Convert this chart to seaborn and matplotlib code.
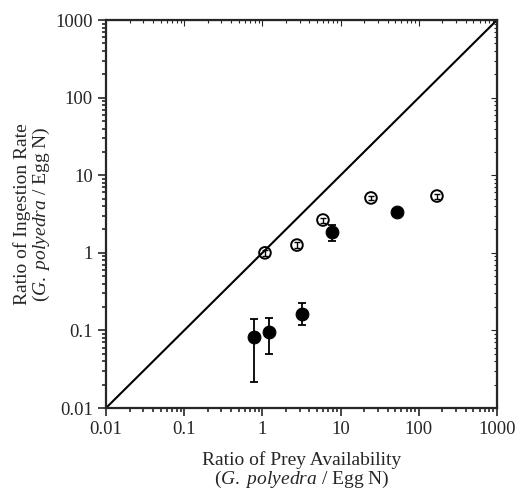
import numpy as np
import pandas as pd
import matplotlib
matplotlib.use("Agg")
from matplotlib import pyplot as plt
import seaborn as sns

# open circles
open_x = [1.08, 2.77, 5.96, 24.5, 171]
open_y = [1.0, 1.26, 2.65, 5.1, 5.4]
open_err = [0.08, 0.1, 0.2, 0.35, 0.4]

# filled circles
fill_x = [0.78, 1.21, 3.21, 7.76, 52.8]
fill_y = [0.082, 0.095, 0.163, 1.85, 3.36]
fill_lo = [0.0216, 0.0497, 0.117, 1.42, 3.0]
fill_hi = [0.14, 0.144, 0.225, 2.28, 3.7]

one_to_one = [0.01, 1000]

ticks = [0.01, 0.1, 1, 10, 100, 1000]
labels = ['0.01', '0.1', '1', '10', '100', '1000']

sns.set_style("ticks")
plt.rcParams['font.family'] = ['Liberation Serif', 'DejaVu Serif']
plt.rcParams['mathtext.fontset'] = 'custom'
plt.rcParams['mathtext.rm'] = 'Liberation Serif'
plt.rcParams['mathtext.it'] = 'Liberation Serif:italic'

fig = plt.figure(figsize=(5.16, 4.9), dpi=100)
ax = fig.add_axes([0.2054, 0.1673, 0.7576, 0.7917])

ax.plot(one_to_one, one_to_one, color='black', lw=1.5)

# error bars
fy = np.array(fill_y)
ax.errorbar(fill_x, fill_y, yerr=[fy - np.array(fill_lo), np.array(fill_hi) - fy],
            fmt='none', ecolor='black', elinewidth=1.3, capsize=3, capthick=1.3)
ax.errorbar(open_x, open_y, yerr=open_err, fmt='none', ecolor='black',
            elinewidth=1.0, capsize=2.5, capthick=1.0)

df_open = pd.DataFrame({'x': open_x, 'y': open_y})
df_fill = pd.DataFrame({'x': fill_x, 'y': fill_y})
sns.scatterplot(data=df_open, x='x', y='y', ax=ax, s=70, marker='o',
                facecolor='none', edgecolor='black', linewidth=1.4, zorder=3)
sns.scatterplot(data=df_fill, x='x', y='y', ax=ax, s=85, marker='o',
                color='black', edgecolor='black', zorder=3)

ax.set_xscale('log')
ax.set_yscale('log')
ax.set_xlim(0.01, 1000)
ax.set_ylim(0.01, 1000)
ax.set_xticks(ticks)
ax.set_xticklabels(labels)
ax.set_yticks(ticks)
ax.set_yticklabels(labels)

ax.tick_params(which='both', direction='out', labelsize=13.5, width=1.2)
ax.tick_params(which='major', length=6)
ax.tick_params(which='minor', length=3)
for s in ax.spines.values():
    s.set_linewidth(1.6)

# inward ticks on top and right
top = ax.secondary_xaxis('top')
top.set_xticks(ticks)
top.tick_params(which='both', direction='in', labeltop=False, width=0.8)
top.tick_params(which='major', length=4)
top.tick_params(which='minor', length=2)
right = ax.secondary_yaxis('right')
right.set_yticks(ticks)
right.tick_params(which='both', direction='in', labelright=False, width=0.8)
right.tick_params(which='major', length=4)
right.tick_params(which='minor', length=2)

ax.set_xlabel("Ratio of Prey Availability\n($\\mathit{G.\\ polyedra}$ / Egg N)",
              fontsize=14, linespacing=1.0)
ax.set_ylabel("Ratio of Ingestion Rate\n($\\mathit{G.\\ polyedra}$ / Egg N)",
              fontsize=14, linespacing=1.0)
ax.yaxis.set_label_coords(-0.137, 0.5)
ax.xaxis.set_label_coords(0.5, -0.112)

fig.savefig("out.png", dpi=100)
